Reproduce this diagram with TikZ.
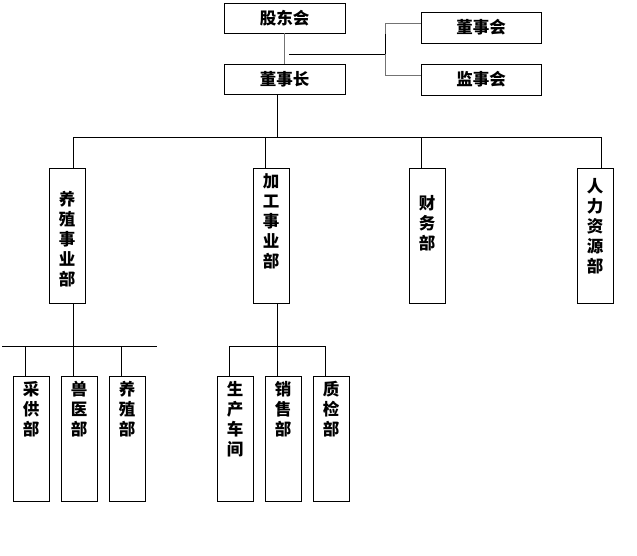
\documentclass[tikz,border=0pt]{standalone}
\usepackage{fontspec}
\newfontfamily\cjk{Noto Sans CJK SC}
\begin{document}
\begin{tikzpicture}[x=1pt,y=-1pt,
  box/.style={draw=black,line width=1pt,inner sep=0pt,outer sep=0pt,fill=white},
  hbox/.style={box,minimum width=121pt,minimum height=30pt,font=\cjk\bfseries\fontsize{16.5}{20}\selectfont},
  vbox/.style={box,minimum width=36pt},
  vtext/.style={anchor=north,inner sep=0pt,align=center,font=\cjk\bfseries\fontsize{16.5}{20}\selectfont},
  conn/.style={line width=1pt,draw=black},
  gconn/.style={line width=1pt,draw=black!55}]
\useasboundingbox (0,0) rectangle (637,555);
% top boxes
\node[hbox] (gd) at (284.5,18) {股东会};
\node[hbox] (dsz) at (284.5,79) {董事长};
\node[hbox,minimum width=120pt,minimum height=31pt] (dsh) at (481,27.5) {董事会};
\node[hbox,minimum width=120pt,minimum height=31pt] (jsh) at (481,79.5) {监事会};
% middle boxes
\node[vbox,minimum height=135pt] (yz) at (67,235.5) {};
\node[vbox,minimum height=135pt] (jg) at (271,235.5) {};
\node[vbox,minimum height=135pt] (cw) at (427,235.5) {};
\node[vbox,minimum height=135pt] (rl) at (595,235.5) {};
\node[vtext] at (67,191) {养\\殖\\事\\业\\部};
\node[vtext] at (271,173) {加\\工\\事\\业\\部};
\node[vtext] at (427,195) {财\\务\\部};
\node[vtext] at (595,178) {人\\力\\资\\源\\部};
% bottom boxes
\node[vbox,minimum height=125pt] (cg) at (31,438.5) {};
\node[vbox,minimum height=125pt] (sy) at (79,438.5) {};
\node[vbox,minimum height=125pt] (yzb) at (127,438.5) {};
\node[vbox,minimum height=125pt] (sc) at (235,438.5) {};
\node[vbox,minimum height=125pt] (xs) at (283,438.5) {};
\node[vbox,minimum height=125pt] (zj) at (331,438.5) {};
\node[vtext] at (31,381) {采\\供\\部};
\node[vtext] at (79,381) {兽\\医\\部};
\node[vtext] at (127,381) {养\\殖\\部};
\node[vtext] at (235,381) {生\\产\\车\\间};
\node[vtext] at (283,381) {销\\售\\部};
\node[vtext] at (331,381) {质\\检\\部};
% coordinates
\coordinate (j1) at (289,54);
\coordinate (j2) at (385,54);
\coordinate (busL) at (73,137);
\coordinate (busR) at (601.5,137);
\coordinate (b1L) at (2,346);
\coordinate (b1R) at (157,346);
\coordinate (b2L) at (229,346);
\coordinate (b2R) at (325,346);
% top connectors
\draw[gconn] (gd.south) -- (dsz.north);
\draw[conn] (j1) -- (j2);
\draw[gconn] ([yshift=4.5pt]dsh.west) -| (j2);
\draw[gconn] ([yshift=4.5pt]jsh.west) -| (j2);
\draw[conn] (j2) -- ([yshift=-6pt]j2 |- dsh.west);
\draw[conn] ([xshift=-7.5pt]dsz.south) -- ([xshift=-7.5pt]dsz.south |- busL);
\draw[conn] (busL) -- (busR);
\draw[conn] ([xshift=6pt]yz.north) -- ([xshift=6pt]yz.north |- busL);
\draw[conn] ([xshift=-6pt]jg.north) -- ([xshift=-6pt]jg.north |- busL);
\draw[conn] ([xshift=-6pt]cw.north) -- ([xshift=-6pt]cw.north |- busL);
\draw[conn] ([xshift=6pt]rl.north) -- ([xshift=6pt]rl.north |- busL);
% lower connectors
\draw[conn] ([xshift=6pt]yz.south) -- ([xshift=6pt]yz.south |- b1L);
\draw[conn] (b1L) -- (b1R);
\draw[conn] ([xshift=-6pt]cg.north) -- ([xshift=-6pt]cg.north |- b1L);
\draw[conn] ([xshift=-6pt]sy.north) -- ([xshift=-6pt]sy.north |- b1L);
\draw[conn] ([xshift=-6pt]yzb.north) -- ([xshift=-6pt]yzb.north |- b1L);
\draw[conn] ([xshift=6pt]jg.south) -- ([xshift=6pt]jg.south |- b2L);
\draw[conn] (b2L) -- (b2R);
\draw[conn] ([xshift=-6pt]sc.north) -- ([xshift=-6pt]sc.north |- b2L);
\draw[conn] ([xshift=-6pt]xs.north) -- ([xshift=-6pt]xs.north |- b2L);
\draw[conn] ([xshift=-6pt]zj.north) -- ([xshift=-6pt]zj.north |- b2L);
\end{tikzpicture}
\end{document}
